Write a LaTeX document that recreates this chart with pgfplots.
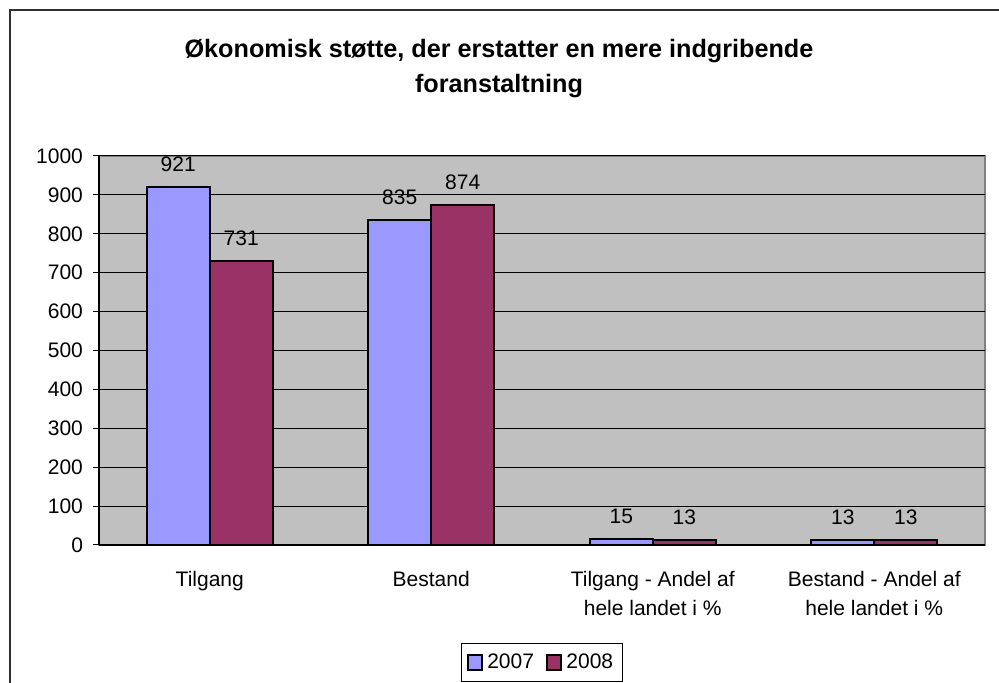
\documentclass[border=0pt]{standalone}
\usepackage{fontspec}
\setmainfont{Liberation Sans}
\usepackage{pgfplots}
\pgfplotsset{compat=1.18}
\definecolor{cA}{HTML}{9999FF}
\definecolor{cB}{HTML}{993366}
\definecolor{plotbg}{HTML}{C0C0C0}
\definecolor{frameg}{HTML}{808080}
\definecolor{outer}{HTML}{303030}
\begin{document}
\begin{tikzpicture}
\useasboundingbox (0,0) rectangle (499.5pt,341.5pt);
\draw[outer, line width=1pt] (5pt,-5pt) -- (5pt,336.5pt) -- (510pt,336.5pt);
\node[align=center, font={\fontsize{12.6}{17.5}\selectfont\bfseries}] at (249.5pt,307pt)
  {Økonomisk støtte, der erstatter en mere indgribende\\foranstaltning};
\begin{axis}[
  at={(49.5pt,69pt)}, anchor=south west,
  scale only axis, width=443pt, height=194.5pt,
  xmin=-0.5, xmax=3.5, ymin=0, ymax=1000,
  ybar=0pt, bar width=31.5pt,
  axis x line*=bottom, axis y line*=left,
  x axis line style={-, black, line width=0.6pt},
  y axis line style={-, black, line width=0.6pt},
  axis background/.style={fill=plotbg, draw=frameg, line width=1pt},
  ytick={0,100,...,1000},
  ymajorgrids, grid style={black, line width=0.5pt},
  tick align=outside,
  major tick length=3pt,
  ytick style={black, line width=0.5pt},
  xtick={0,1,2,3},
  xticklabels={Tilgang, Bestand, {Tilgang - Andel af\\hele landet i \%}, {Bestand - Andel af\\hele landet i \%}},
  x tick style={draw=none},
  minor xtick={-0.5,0.5,1.5,2.5,3.5},
  minor tick length=3pt,
  minor x tick style={black, line width=0.5pt},
  /pgf/number format/assume math mode=true,
  /pgf/number format/set thousands separator={},
  ticklabel style={font={\fontsize{10.5}{14.5}\selectfont}},
  xticklabel style={align=center, anchor=north, inner sep=0pt, yshift=-10pt},
  yticklabel style={xshift=-1.5pt},
  nodes near coords,
  every node near coord/.append style={font={\fontsize{10.5}{12}\selectfont}, anchor=south, inner sep=0pt, yshift=7pt, black},
  legend style={at={(0.5,-0.352)}, anchor=south, legend columns=2, draw=black, line width=0.5pt,
    font={\fontsize{10.5}{12}\selectfont}, inner xsep=2.5pt, inner ysep=3pt,
    /tikz/every even column/.append style={column sep=4pt}},
  legend image code/.code={\draw[#1, line width=1pt] (0pt,-3.6pt) rectangle (7.2pt,3.6pt);},
]
\addplot[fill=cA, draw=black, line width=1pt] coordinates {(0,921) (1,835) (2,15) (3,13)};
\addplot[fill=cB, draw=black, line width=1pt] coordinates {(0,731) (1,874) (2,13) (3,13)};
\legend{2007,2008}
\end{axis}
\end{tikzpicture}
\end{document}
